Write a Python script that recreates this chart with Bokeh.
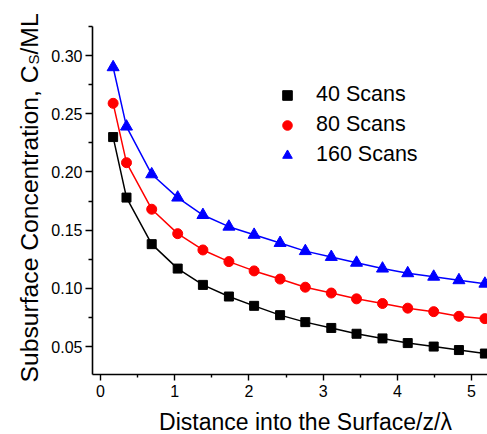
import math
from bokeh.plotting import figure
from bokeh.layouts import column, row
from bokeh.models import (Range1d, FixedTicker, NumeralTickFormatter, Label,
                          Legend, LegendItem)
from bokeh.embed import file_html
from bokeh.resources import INLINE

# ---- data ----
distance = [0.17, 0.35, 0.69, 1.04, 1.38, 1.73, 2.07, 2.42, 2.76, 3.11,
            3.45, 3.80, 4.14, 4.49, 4.83, 5.18]
scans_40 = [0.230, 0.178, 0.138, 0.117, 0.103, 0.093, 0.085, 0.077, 0.071,
            0.066, 0.061, 0.057, 0.053, 0.050, 0.047, 0.044]
scans_80 = [0.259, 0.208, 0.168, 0.147, 0.133, 0.123, 0.115, 0.108, 0.101,
            0.096, 0.091, 0.087, 0.083, 0.080, 0.076, 0.074]
scans_160 = [0.290, 0.239, 0.198, 0.178, 0.163, 0.153, 0.146, 0.139, 0.132,
             0.127, 0.122, 0.117, 0.113, 0.110, 0.107, 0.104]
series_labels = ["40 Scans", "80 Scans", "160 Scans"]
x_ticks = [0, 1, 2, 3, 4, 5]
x_minor = [0.5, 1.5, 2.5, 3.5, 4.5]
y_ticks = [0.05, 0.10, 0.15, 0.20, 0.25, 0.30]
y_minor = [0.075, 0.125, 0.175, 0.225, 0.275, 0.325]
x_title = "Distance into the Surface/z/\u03bb"
y_title_main = "Subsurface Concentration, C"
y_title_sub = "S"
y_title_end = "/ML"

FONT = "Liberation Sans"

# ---- main plot (frame spans x 92..487, y 26..374 of the page) ----
p = figure(width=443, height=404, output_backend="svg", toolbar_location=None,
           x_range=Range1d(-0.108, 5.215), y_range=Range1d(0.026, 0.325),
           min_border_left=48, min_border_right=0, min_border_top=26,
           min_border_bottom=30)
p.outline_line_color = None
p.grid.visible = False
p.background_fill_color = "white"
p.border_fill_color = "white"

p.xaxis.ticker = FixedTicker(ticks=x_ticks, minor_ticks=x_minor)
p.yaxis.ticker = FixedTicker(ticks=y_ticks, minor_ticks=y_minor)
p.xaxis.formatter = NumeralTickFormatter(format="0")
p.yaxis.formatter = NumeralTickFormatter(format="0.00")
for ax in (p.xaxis, p.yaxis):
    ax.axis_line_width = 1.6
    ax.axis_line_color = "black"
    ax.major_tick_line_color = "black"
    ax.minor_tick_line_color = "black"
    ax.major_tick_line_width = 1.4
    ax.minor_tick_line_width = 1.4
    ax.major_tick_in = 0
    ax.minor_tick_in = 0
    ax.major_label_text_font = FONT
    ax.major_label_text_font_size = "16px"
    ax.major_label_text_color = "black"
p.xaxis.major_tick_out = 6
p.xaxis.minor_tick_out = 3
p.yaxis.major_tick_out = 7
p.yaxis.minor_tick_out = 4
p.xaxis.major_label_standoff = 4
p.yaxis.major_label_standoff = 3

colors = ["black", "red", "blue"]
markers = ["square", "circle", "triangle"]
sizes = [9, 10, 12]
items = []
for ys, c, m, s, lab in zip([scans_40, scans_80, scans_160], colors, markers,
                            sizes, series_labels):
    p.line(distance, ys, line_color=c, line_width=1.5)
    r = p.scatter(distance, ys, marker=m, size=s, fill_color=c, line_color=c)
    items.append(LegendItem(label=lab, renderers=[r]))

legend = Legend(items=items, location=(183, 207), padding=0, spacing=5,
                glyph_width=24, glyph_height=24, label_height=24,
                label_standoff=17, border_line_color=None,
                background_fill_alpha=0, margin=0,
                label_text_font=FONT, label_text_font_size="21.5px",
                label_text_color="black")
p.add_layout(legend, "center")

# ---- y-axis title panel (left strip, 44 px wide, full height) ----
yf = figure(width=44, height=434, output_backend="svg", toolbar_location=None,
            x_range=Range1d(0, 44), y_range=Range1d(0, 434),
            x_axis_location=None, y_axis_location=None,
            min_border_left=0, min_border_right=0, min_border_top=0,
            min_border_bottom=0)
yf.grid.visible = False
yf.outline_line_color = None
yf.border_fill_color = "white"
yf.add_layout(Label(x=28.5, y=369, text=y_title_main, angle=math.pi / 2,
                    text_font=FONT, text_font_size="24.7px", text_color="black",
                    text_align="right", text_baseline="alphabetic"))
yf.add_layout(Label(x=33, y=370, text=y_title_sub, angle=math.pi / 2,
                    text_font=FONT, text_font_size="15px", text_color="black",
                    text_align="left", text_baseline="alphabetic"))
yf.add_layout(Label(x=28.5, y=380, text=y_title_end, angle=math.pi / 2,
                    text_font=FONT, text_font_size="24.7px", text_color="black",
                    text_align="left", text_baseline="alphabetic"))

# ---- x-axis title panel (bottom strip under the main plot) ----
xf = figure(width=443, height=30, output_backend="svg", toolbar_location=None,
            x_range=Range1d(48, 443), y_range=Range1d(0, 30),
            x_axis_location=None, y_axis_location=None,
            min_border_left=48, min_border_right=0, min_border_top=0,
            min_border_bottom=0)
xf.grid.visible = False
xf.outline_line_color = None
xf.border_fill_color = "white"
xf.add_layout(Label(x=261, y=12.5, text=x_title,
                    text_font=FONT, text_font_size="23px", text_color="black",
                    text_align="center", text_baseline="alphabetic"))

layout = row(yf, column(p, xf, spacing=0), spacing=0)
open("out.html", "w").write(file_html(layout, INLINE))
